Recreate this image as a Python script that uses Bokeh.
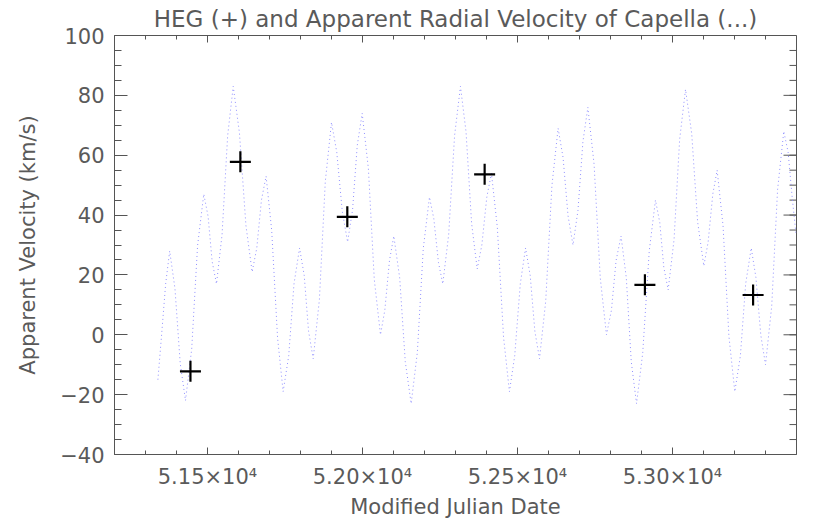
import math
from bokeh.plotting import figure
from bokeh.models import LinearAxis, FixedTicker, Range1d
from bokeh.embed import file_html
from bokeh.resources import INLINE

# ---- data ----
curve_mjd = [51340, 51352, 51365, 51378, 51395, 51412, 51429, 51449, 51468, 51488,
             51502, 51515, 51529, 51547, 51565, 51583, 51603, 51624, 51644, 51659,
             51674, 51689, 51707, 51726, 51744, 51762, 51779, 51797, 51812, 51826,
             51841, 51861, 51880, 51900, 51917, 51935, 51952, 51968, 51983, 51999,
             52019, 52038, 52058, 52072, 52087, 52101, 52120, 52138, 52157, 52177,
             52196, 52216, 52230, 52245, 52259, 52278, 52297, 52316, 52334, 52352,
             52370, 52385, 52401, 52416, 52435, 52455, 52474, 52491, 52509, 52526,
             52541, 52556, 52571, 52591, 52611, 52631, 52647, 52663, 52679, 52695,
             52711, 52727, 52747, 52767, 52787, 52803, 52818, 52834, 52851, 52867,
             52884, 52904, 52925, 52945, 52959, 52972, 52986, 53005, 53023, 53042,
             53062, 53081, 53101, 53115, 53130, 53144, 53163, 53182, 53201, 53219,
             53236, 53254, 53269, 53285, 53300, 53320, 53339, 53359, 53373, 53386,
             53398]
curve_vel = [-15, 0, 17, 28, 15.5, -9.5, -22, -4.8, 29.8, 47,
             39.5, 24.5, 17, 33.5, 66.5, 83, 67.5, 36.5, 21, 29,
             45, 53, 35, -1, -19, -7, 17, 29, 19.8, 1.2,
             -8, 11.8, 51.2, 71, 61, 41, 31, 41.8, 63.2, 74,
             55.5, 18.5, 0, 8.2, 24.8, 33, 19, -9, -23, -5.8,
             28.8, 46, 38.8, 24.2, 17, 33.5, 66.5, 83, 67.8, 37.2,
             22, 30, 46, 54, 35.8, -0.8, -19, -7, 17, 29,
             19.8, 1.2, -8, 11.2, 49.8, 69, 59.2, 39.8, 30, 41.5,
             64.5, 76, 57, 19, 0, 8.2, 24.8, 33, 19, -9,
             -23, -6, 28, 45, 37.5, 22.5, 15, 31.8, 65.2, 82,
             67.2, 37.8, 23, 31, 47, 55, 36.5, -0.5, -19, -7,
             17, 29, 19.2, -0.2, -10, 9.5, 48.5, 68, 61, 46,
             34]

heg_mjd = [51445, 51606, 51951, 52394, 52911, 53260]
heg_vel = [-12.2, 57.8, 39.4, 53.6, 16.7, 13.3]

x_start, x_end = 51200, 53400
y_start, y_end = -40, 100
x_major = [51500, 52000, 52500, 53000]
x_labels = ["5.15×10⁴", "5.20×10⁴", "5.25×10⁴", "5.30×10⁴"]
x_minor = list(range(51300, 53400, 100))
y_major = [-40, -20, 0, 20, 40, 60, 80, 100]
y_labels = ["−40", "−20", "0", "20", "40", "60", "80", "100"]
y_minor = list(range(-35, 100, 5))

title_text = "HEG (+) and Apparent Radial Velocity of Capella (...)"
x_title = "Modified Julian Date"
y_title = "Apparent Velocity (km/s)"

FONT = "DejaVu Sans"
TXT = "#5a5a5a"
AX = "#555555"

p = figure(width=830, height=527, output_backend="svg", toolbar_location=None,
           x_range=Range1d(x_start, x_end), y_range=Range1d(y_start, y_end),
           x_axis_type=None, y_axis_type=None,
           min_border_left=114, min_border_right=34, min_border_top=34,
           min_border_bottom=73)
p.background_fill_color = "white"
p.border_fill_color = "white"
p.outline_line_color = AX
p.outline_line_width = 1
p.grid.visible = False

p.title.text = title_text
p.title.align = "center"
p.title.text_font = FONT
p.title.text_font_size = "23px"
p.title.text_font_style = "normal"
p.title.text_color = TXT
p.title.standoff = 7

def style(ax, xaxis):
    if xaxis:
        ax.ticker = FixedTicker(ticks=x_major, minor_ticks=x_minor)
        ax.major_tick_in = 7
        ax.minor_tick_in = 4
    else:
        ax.ticker = FixedTicker(ticks=y_major, minor_ticks=y_minor)
        ax.major_tick_in = 13
        ax.minor_tick_in = 7
    ax.major_tick_out = 0
    ax.minor_tick_out = 0
    ax.axis_line_color = AX
    ax.major_tick_line_color = AX
    ax.minor_tick_line_color = AX
    ax.major_label_text_font = FONT
    ax.major_label_text_color = TXT
    ax.major_label_text_font_size = "21px"
    ax.axis_label_text_font = FONT
    ax.axis_label_text_color = TXT
    ax.axis_label_text_font_style = "normal"
    ax.axis_label_text_font_size = "21px"

xb = LinearAxis(axis_label=x_title)
style(xb, True)
xb.major_label_overrides = dict(zip(x_major, x_labels))
xb.major_label_standoff = 10
xb.axis_label_standoff = 3
p.add_layout(xb, "below")

yl = LinearAxis(axis_label=y_title)
style(yl, False)
yl.major_label_overrides = dict(zip(y_major, y_labels))
yl.major_label_standoff = 10
yl.axis_label_standoff = 17
p.add_layout(yl, "left")

# mirrored tick marks on the top and right edges (clipped to the frame)
p.scatter(x_major, [y_end] * len(x_major), marker="dash", angle=math.pi / 2,
          size=14, line_color=AX, line_width=1)
p.scatter(x_minor, [y_end] * len(x_minor), marker="dash", angle=math.pi / 2,
          size=8, line_color=AX, line_width=1)
p.scatter([x_end] * len(y_major), y_major, marker="dash",
          size=26, line_color=AX, line_width=1)
p.scatter([x_end] * len(y_minor), y_minor, marker="dash",
          size=14, line_color=AX, line_width=1)

p.line(curve_mjd, curve_vel, line_color="#9090ff", line_width=1, line_dash="1 3")
p.scatter(heg_mjd, heg_vel, marker="cross", size=21, line_width=2.2, line_color="black")

open("out.html", "w").write(file_html(p, INLINE))
